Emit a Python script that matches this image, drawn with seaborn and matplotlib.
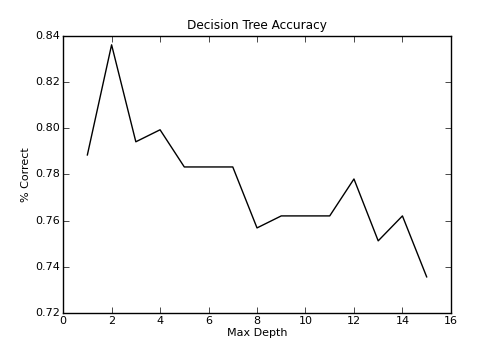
import matplotlib
matplotlib.use('Agg')
import matplotlib.pyplot as plt
import seaborn as sns
import pandas as pd

max_depth = [1, 2, 3, 4, 5, 6, 7, 8, 9, 10, 11, 12, 13, 14, 15]
accuracy = [0.7884, 0.8361, 0.7941, 0.7993, 0.7832, 0.7832, 0.7832,
            0.7568, 0.7620, 0.7620, 0.7620, 0.7780, 0.7512, 0.7620, 0.7356]

df = pd.DataFrame({'Max Depth': max_depth, '% Correct': accuracy})

plt.style.use('classic')
plt.rcParams['font.family'] = ['DejaVu Sans']

fig = plt.figure(figsize=(5.01, 3.58), dpi=100, facecolor='white')
ax = fig.add_axes([0.126, 0.126, 0.774, 0.774])
sns.lineplot(data=df, x='Max Depth', y='% Correct', color='black', lw=1, ax=ax)

ax.set_xlim(0, 16)
ax.set_ylim(0.72, 0.84)
ax.set_xticks(range(0, 17, 2))
ax.set_yticks([0.72, 0.74, 0.76, 0.78, 0.80, 0.82, 0.84])
ax.set_yticklabels(['0.72', '0.74', '0.76', '0.78', '0.80', '0.82', '0.84'])
ax.tick_params(labelsize=8, direction='in', top=True, right=True, length=4, pad=2)
ax.set_xlabel('Max Depth', fontsize=8, labelpad=2)
ax.set_ylabel('% Correct', fontsize=8, labelpad=3)
ax.set_title('Decision Tree Accuracy', fontsize=8.7, pad=5)

fig.savefig('out.png', dpi=100, facecolor='white')
